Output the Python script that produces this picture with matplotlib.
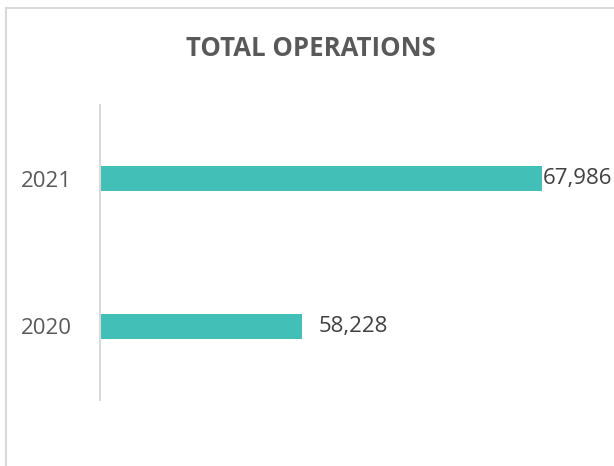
import matplotlib
matplotlib.use("Agg")
import matplotlib.pyplot as plt
from matplotlib.lines import Line2D

years = ["2020", "2021"]
operations = [58228, 67986]
label_offsets = [12, 0.7]  # points from bar end

TEAL = "#42bfb7"
GRID = "#d9d9d9"
TEXT = "#595959"

plt.rcParams["font.family"] = ["Open Sans", "DejaVu Sans"]

fig = plt.figure(figsize=(6.14, 4.66), dpi=100)
ax = fig.add_axes([100 / 614, 66 / 466, 491 / 614, 295 / 466])

ax.barh(years, operations, height=0.17, color=TEAL)
ax.set_xlim(50000, 70000)
ax.set_ylim(-0.5, 1.5)

for i, v in enumerate(operations):
    ax.annotate(f"{v:,}", xy=(v, i), xytext=(label_offsets[i], 0),
                textcoords="offset points", va="center", ha="left",
                fontsize=16, color="#404040")

for s in ["top", "right", "bottom"]:
    ax.spines[s].set_visible(False)
ax.spines["left"].set_color(GRID)
ax.spines["left"].set_linewidth(1.5)
ax.set_xticks([])
ax.tick_params(axis="y", length=0, pad=20, labelsize=16, labelcolor=TEXT)

fig.text(310.5 / 614, 1 - 48 / 466, "TOTAL OPERATIONS", ha="center", va="center",
         fontsize=18.5, fontweight="bold", color=TEXT)

# chart area border (only top and left edges visible)
fig.add_artist(Line2D([5.5 / 614, 5.5 / 614], [0, 1 - 7.5 / 466],
                      transform=fig.transFigure, color=GRID, lw=1.5))
fig.add_artist(Line2D([5.5 / 614, 1], [1 - 7.5 / 466, 1 - 7.5 / 466],
                      transform=fig.transFigure, color=GRID, lw=1.5))

fig.savefig("out.png", dpi=100)
